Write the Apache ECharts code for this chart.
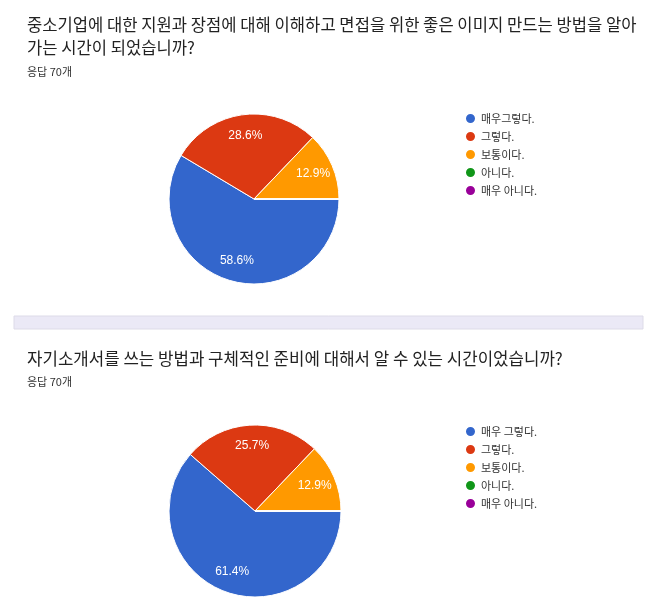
<!DOCTYPE html>
<html lang="ko">
<head>
<meta charset="UTF-8">
<title>설문 결과</title>
<script src="https://cdn.jsdelivr.net/npm/echarts@6/dist/echarts.min.js"></script>
<style>
  html, body { margin: 0; padding: 0; background: #fff; }
  #main { width: 666px; height: 603px; }
</style>
</head>
<body>
<div id="main"></div>
<script type="text/javascript">
    // answer options (same order in both questions)
    var names1 = ['매우그렇다.', '그렇다.', '보통이다.', '아니다.', '매우 아니다.'];
    var names2 = ['매우 그렇다.', '그렇다.', '보통이다.', '아니다.', '매우 아니다.'];
    // counts out of 70 responses
    var counts1 = [41, 20, 9, 0, 0];
    var counts2 = [43, 18, 9, 0, 0];
    var colors = ['#3366cc', '#dc3912', '#ff9900', '#109618', '#990099'];

    var question1 = '중소기업에 대한 지원과 장점에 대해 이해하고 면접을 위한 좋은 이미지 만드는 방법을 알아\n가는 시간이 되었습니까?';
    var question2 = '자기소개서를 쓰는 방법과 구체적인 준비에 대해서 알 수 있는 시간이었습니까?';
    var respText = '응답 70개';

    var FONT = '"Noto Sans CJK KR", "Noto Sans", sans-serif';

    function toData(names, counts) {
        return names.map(function (n, i) {
            return { name: n, value: counts[i], itemStyle: { color: colors[i] } };
        });
    }

    function pctLabel(counts) {
        var total = counts.reduce(function (a, b) { return a + b; }, 0);
        return function (p) {
            if (!p.value) return '';
            return (p.value / total * 100).toFixed(1) + '%';
        };
    }

    function piePart(names, counts, center, r) {
        return {
            type: 'pie',
            center: center,
            radius: [0, r],
            startAngle: 0,
            clockwise: true,
            silent: true,
            label: { show: false },
            labelLine: { show: false },
            itemStyle: { borderColor: '#fff', borderWidth: 1 },
            data: toData(names, counts)
        };
    }

    // transparent copy, larger radius, so the inside labels sit further out like the original
    function labelPart(names, counts, center, r) {
        return {
            type: 'pie',
            center: center,
            radius: [0, r * 1.44],
            startAngle: 0,
            clockwise: true,
            silent: true,
            z: 5,
            itemStyle: { color: 'rgba(0,0,0,0)', borderWidth: 0 },
            label: {
                show: true,
                position: 'inside',
                color: '#fff',
                fontSize: 12,
                fontFamily: 'Arial, "Liberation Sans", sans-serif',
                formatter: pctLabel(counts)
            },
            labelLine: { show: false },
            emphasis: { disabled: true },
            data: names.map(function (n, i) { return { name: n, value: counts[i] }; })
        };
    }

    function legendPart(names, top) {
        return {
            orient: 'vertical',
            left: 459,
            top: top,
            icon: 'circle',
            itemWidth: 11,
            itemHeight: 11,
            itemGap: 5,
            selectedMode: false,
            textStyle: { fontSize: 11, color: '#333', fontFamily: FONT },
            data: names.map(function (n, i) { return { name: n, itemStyle: { color: colors[i] } }; })
        };
    }

    var myChart = echarts.init(document.getElementById('main'), null, { renderer: 'canvas' });

    var option = {
        backgroundColor: '#fff',
        animation: false,
        legend: [legendPart(names1, 107), legendPart(names2, 420)],
        graphic: [
            { type: 'text', left: 27, top: 13, style: { text: question1, font: '16.6px ' + FONT, fill: '#222', lineHeight: 23 } },
            { type: 'text', left: 27, top: 66, style: { text: respText, font: '11px ' + FONT, fill: '#333' } },
            { type: 'rect', shape: { x: 14, y: 316, width: 629, height: 13 },
              style: { fill: '#ebe9f6', stroke: '#dddbe8', lineWidth: 1 } },
            { type: 'text', left: 27, top: 350, style: { text: question2, font: '16.8px ' + FONT, fill: '#222' } },
            { type: 'text', left: 27, top: 376, style: { text: respText, font: '11px ' + FONT, fill: '#333' } }
        ],
        series: [
            piePart(names1, counts1, [254, 199], 85),
            piePart(names2, counts2, [255, 511], 86),
            labelPart(names1, counts1, [254, 199], 85),
            labelPart(names2, counts2, [255, 511], 86)
        ]
    };

    myChart.setOption(option);
</script>
</body>
</html>
